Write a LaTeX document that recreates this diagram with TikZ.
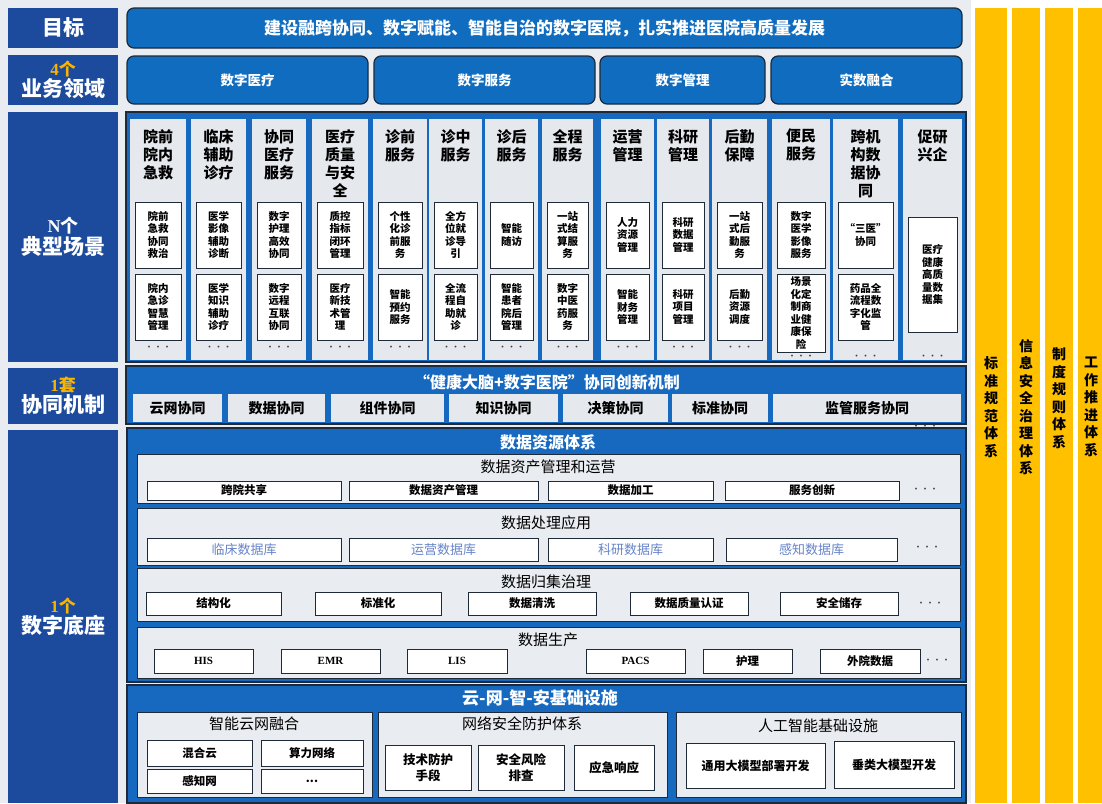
\documentclass[tikz,border=0pt]{standalone}
\usepackage{fontspec}
\setmainfont{Noto Sans CJK SC}
\newfontfamily\serifB{Liberation Serif}
\definecolor{navy}{HTML}{1C4A9C}
\definecolor{mblue}{HTML}{0F6CBF}
\definecolor{fblue}{HTML}{1769C0}
\definecolor{lgrey}{HTML}{E5E8ED}
\definecolor{bggrey}{HTML}{E9ECF0}
\definecolor{gold}{HTML}{F7B500}
\definecolor{ylw}{HTML}{FFC000}
\definecolor{dbtext}{HTML}{6684C8}
\definecolor{edge}{HTML}{1E2A38}
\newcommand\BX[7]{%
 \pgfmathsetmacro\bw{(#5)-(#3)}\pgfmathsetmacro\bh{(#6)-(#4)}%
 \node[#1,anchor=north west,minimum width=\bw pt,minimum height=\bh pt,inner sep=0pt,outer sep=0pt] (#2) at (#3,#4) {#7};}
\tikzset{
 lab/.style={fill=navy,text=white,align=center,font=\bfseries\fontsize{21}{24}\selectfont},
 goalbox/.style={fill=mblue,draw=edge,line width=1.2pt,rounded corners=7pt,text=white,font=\bfseries\fontsize{17}{20}\selectfont},
 dombox/.style={goalbox,font=\bfseries\fontsize{13.5}{16}\selectfont},
 bframe/.style={fill=fblue,draw=edge,line width=1.2pt},
 colbg/.style={fill=lgrey},
 colhd/.style={anchor=north,inner sep=0pt,align=center,font=\bfseries\fontsize{15}{18}\selectfont},
 scbox/.style={fill=white,draw=edge,line width=0.8pt,align=center,font=\bfseries\fontsize{10.5}{12.5}\selectfont},
 dotsty/.style={font=\fontsize{9}{10}\selectfont,text=black!75,inner sep=0pt},
 cbox/.style={fill=lgrey,font=\bfseries\fontsize{14}{16}\selectfont},
 ftitle/.style={text=white,font=\bfseries\fontsize{16}{18}\selectfont,inner sep=0pt},
 panel/.style={fill=bggrey,draw=edge,line width=0.8pt},
 ptitle/.style={font=\fontsize{15}{18}\selectfont,inner sep=0pt},
 dbox/.style={fill=white,draw=edge,line width=0.8pt,font=\bfseries\fontsize{11.5}{13}\selectfont},
 dbbox/.style={dbox,text=dbtext,font=\fontsize{13}{15}\selectfont},
 sbox/.style={dbox,font=\bfseries\serifB\fontsize{11}{13}\selectfont},
 ibox/.style={fill=white,draw=edge,line width=0.8pt,align=center,font=\bfseries\fontsize{12.5}{16}\selectfont},
 ycol/.style={fill=ylw},
 ytext/.style={align=center,inner sep=0pt,font=\bfseries\fontsize{14}{17.5}\selectfont}
}
\begin{document}
\begin{tikzpicture}[x=1pt,y=-1pt]
\useasboundingbox (0,0) rectangle (1102,803);
\fill[bggrey] (0,0) rectangle (971,803);
\fill[white] (971,0) rectangle (1102,803);

% left labels
\BX{lab}{lgoal}{8}{8}{118}{48}{目标}
\BX{lab}{ldom}{8}{55}{118}{105}{{\color{gold}\fontsize{17}{18}\selectfont{\serifB 4}个}\\[-3pt]业务领域}
\BX{lab}{lscn}{8}{112}{118}{362}{{\fontsize{18}{20}\selectfont{\serifB N}个}\\[-2pt]典型场景}
\BX{lab}{lmech}{8}{368}{118}{424}{{\color{gold}\fontsize{17}{18}\selectfont{\serifB 1}套}\\[-3pt]协同机制}
\BX{lab}{lbase}{8}{430}{118}{803}{{\color{gold}\fontsize{17}{18}\selectfont{\serifB 1}个}\\[-3pt]数字底座}

% goal and domains
\BX{goalbox}{goal}{127}{8}{962}{48}{建设融跨协同、数字赋能、智能自治的数字医院，扎实推进医院高质量发展}
\BX{dombox}{d1}{127}{56}{368}{104}{数字医疗}
\BX{dombox}{d2}{374}{56}{595}{104}{数字服务}
\BX{dombox}{d3}{600}{56}{765}{104}{数字管理}
\BX{dombox}{d4}{771}{56}{962}{104}{实数融合}

% scenarios
\BX{bframe}{sframe}{126}{112}{966}{362}{}
\foreach \xa/\xb/\hd/\ba/\bb/\bbot/\dy [count=\i] in {
 130/186/{院前\\院内\\急救}/{院前\\急救\\协同\\救治}/{院内\\急诊\\智慧\\管理}/340/348,
 191/246/{临床\\辅助\\诊疗}/{医学\\影像\\辅助\\诊断}/{医学\\知识\\辅助\\诊疗}/340/348,
 252/306/{协同\\医疗\\服务}/{数字\\护理\\高效\\协同}/{数字\\远程\\互联\\协同}/340/348,
 312/368/{医疗\\质量\\与安\\全}/{质控\\指标\\闭环\\管理}/{医疗\\新技\\术管\\理}/340/348,
 373/427/{诊前\\服务}/{个性\\化诊\\前服\\务}/{智能\\预约\\服务}/340/348,
 429/482/{诊中\\服务}/{全方\\位就\\诊导\\引}/{全流\\程自\\助就\\诊}/340/348,
 485/538/{诊后\\服务}/{智能\\随访}/{智能\\患者\\院后\\管理}/340/348,
 542/593/{全程\\服务}/{一站\\式结\\算服\\务}/{数字\\中医\\药服\\务}/340/348,
 601/654/{运营\\管理}/{人力\\资源\\管理}/{智能\\财务\\管理}/340/348,
 657/709/{科研\\管理}/{科研\\数据\\管理}/{科研\\项目\\管理}/340/348,
 712/767/{后勤\\保障}/{一站\\式后\\勤服\\务}/{后勤\\资源\\调度}/340/348,
 772/830/{便民\\服务}/{数字\\医学\\影像\\服务}/{场景\\化定\\制商\\业健\\康保\\险}/352/357,
 833/898/{跨机\\构数\\据协\\同}/{“三医”\\协同}/{药品全\\流程数\\字化监\\管}/340/357}{
 \BX{colbg}{col\i}{\xa}{119}{\xb}{360}{}
 \node[colhd] (hd\i) at ({(\xa+\xb)/2},129) {\hd};
 \BX{scbox}{sa\i}{\xa+5}{202}{\xb-5}{268}{\ba}
 \BX{scbox}{sb\i}{\xa+5}{274}{\xb-5}{\bbot}{\bb}
 \node[dotsty] (dt\i) at ({(\xa+\xb)/2},\dy) {···};
}
\BX{colbg}{col14}{903}{119}{962}{360}{}
\node[colhd] (hd14) at (932.5,129) {促研\\兴企};
\BX{scbox}{sa14}{908}{217}{957}{332}{医疗\\健康\\高质\\量数\\据集}
\node[dotsty] (dt14) at (932.5,357) {···};

% collaboration mechanism
\BX{bframe}{mframe}{126}{366}{966}{424}{}
\node[ftitle] (mtitle) at (547,382) {“健康大脑+数字医院”协同创新机制};
\BX{cbox}{k1}{133}{394}{222}{422}{云网协同}
\BX{cbox}{k2}{228}{394}{325}{422}{数据协同}
\BX{cbox}{k3}{331}{394}{444}{422}{组件协同}
\BX{cbox}{k4}{449}{394}{558}{422}{知识协同}
\BX{cbox}{k5}{563}{394}{668}{422}{决策协同}
\BX{cbox}{k6}{672}{394}{768}{422}{标准协同}
\BX{cbox}{k7}{773}{394}{961}{422}{监管服务协同}

% data resources
\BX{bframe}{dframe}{127}{428}{966}{682}{}
\node[dotsty] (kdots) at (925,427) {···};
\node[ftitle] (dtitle) at (548,442) {数据资源体系};

\BX{panel}{p1}{137}{454}{960}{503}{}
\node[ptitle] (p1t) at (548,467) {数据资产管理和运营};
\BX{dbox}{a1}{147}{481}{341}{500}{跨院共享}
\BX{dbox}{a2}{349}{481}{538}{500}{数据资产管理}
\BX{dbox}{a3}{548}{481}{713}{500}{数据加工}
\BX{dbox}{a4}{725}{481}{899}{500}{服务创新}
\node[dotsty] (a5) at (925,490) {···};

\BX{panel}{p2}{137}{508}{960}{565}{}
\node[ptitle] (p2t) at (546,523) {数据处理应用};
\BX{dbbox}{b1}{147}{538}{341}{561}{临床数据库}
\BX{dbbox}{b2}{349}{538}{538}{561}{运营数据库}
\BX{dbbox}{b3}{548}{538}{713}{561}{科研数据库}
\BX{dbbox}{b4}{726}{538}{897}{561}{感知数据库}
\node[dotsty] (b5) at (927,548) {···};

\BX{panel}{p3}{137}{568}{960}{621}{}
\node[ptitle] (p3t) at (546,582) {数据归集治理};
\BX{dbox}{g1}{146}{592}{281}{615}{结构化}
\BX{dbox}{g2}{315}{592}{441}{615}{标准化}
\BX{dbox}{g3}{468}{592}{596}{615}{数据清洗}
\BX{dbox}{g4}{630}{592}{748}{615}{数据质量认证}
\BX{dbox}{g5}{780}{592}{898}{615}{安全储存}
\node[dotsty] (g6) at (930,604) {···};

\BX{panel}{p4}{137}{627}{960}{678}{}
\node[ptitle] (p4t) at (548,640) {数据生产};
\BX{sbox}{h1}{154}{649}{253}{673}{HIS}
\BX{sbox}{h2}{281}{649}{380}{673}{EMR}
\BX{sbox}{h3}{407}{649}{507}{673}{LIS}
\BX{sbox}{h4}{586}{649}{685}{673}{PACS}
\BX{dbox}{h5}{703}{649}{792}{673}{护理}
\BX{dbox}{h6}{820}{649}{920}{673}{外院数据}
\node[dotsty] (h7) at (937,661) {···};

% infrastructure
\BX{bframe}{iframe}{127}{685}{966}{803}{}
\node[ftitle,font=\bfseries\fontsize{17}{19}\selectfont] (ititle) at (540,698) {云-网-智-安基础设施};

\BX{panel}{q1}{137}{712}{372}{797}{}
\node[ptitle] (q1t) at (254,724) {智能云网融合};
\BX{dbox}{r1}{147}{740}{252}{766}{混合云}
\BX{dbox}{r2}{261}{740}{363}{766}{算力网络}
\BX{dbox}{r3}{147}{769}{252}{793}{感知网}
\BX{dbox}{r4}{261}{769}{363}{793}{...}

\BX{panel}{q2}{378}{712}{667}{797}{}
\node[ptitle] (q2t) at (522,724) {网络安全防护体系};
\BX{ibox}{s1}{385}{745}{471}{790}{技术防护\\手段}
\BX{ibox}{s2}{478}{745}{564}{790}{安全风险\\排查}
\BX{ibox}{s3}{574}{745}{654}{790}{应急响应}

\BX{panel}{q3}{676}{712}{961}{797}{}
\node[ptitle] (q3t) at (818,726) {人工智能基础设施};
\BX{ibox}{t1}{686}{743}{825}{788}{\fontsize{12}{15}\selectfont 通用大模型部署开发}
\BX{ibox}{t2}{834}{741}{954}{788}{\fontsize{12}{15}\selectfont 垂类大模型开发}

% right columns
\BX{ycol}{y1}{975}{8}{1007}{803}{}
\BX{ycol}{y2}{1012}{8}{1040}{803}{}
\BX{ycol}{y3}{1045}{8}{1073}{803}{}
\BX{ycol}{y4}{1078}{8}{1102}{803}{}
\node[ytext] (yt1) at (991,407) {标\\准\\规\\范\\体\\系};
\node[ytext] (yt2) at (1026,407) {信\\息\\安\\全\\治\\理\\体\\系};
\node[ytext] (yt3) at (1059,398) {制\\度\\规\\则\\体\\系};
\node[ytext] (yt4) at (1091,407) {工\\作\\推\\进\\体\\系};
\end{tikzpicture}
\end{document}
